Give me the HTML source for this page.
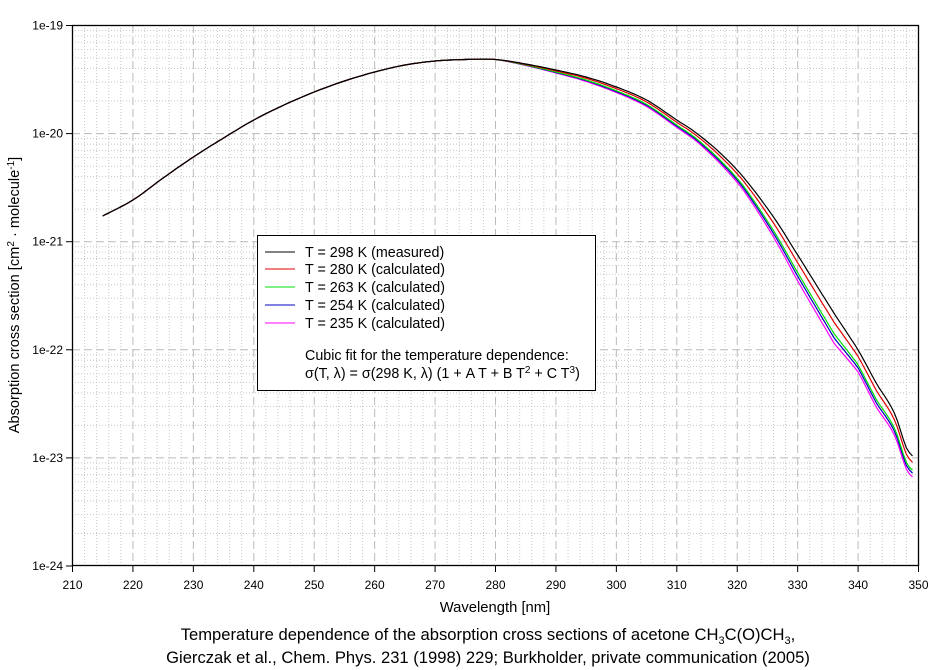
<!DOCTYPE html>
<html><head><meta charset="utf-8"><style>
body{margin:0;background:#fff;}
svg{display:block;font-family:"Liberation Sans",Arial,sans-serif;}
</style></head><body>
<svg id="s" width="944" height="670" xmlns="http://www.w3.org/2000/svg">
<g id="grid"></g>
<g id="curves"></g>
<rect x="72.5" y="25.5" width="846" height="540" fill="none" stroke="#000" stroke-width="1.3"/>
<g id="ticks" font-size="12"></g>
<text x="495" y="612" font-size="14.8" text-anchor="middle">Wavelength [nm]</text>
<text transform="translate(19,295) rotate(-90)" font-size="14.6" text-anchor="middle">Absorption cross section [cm<tspan font-size="10" dy="-5">2</tspan><tspan dy="5"> · molecule</tspan><tspan font-size="10" dy="-5">-1</tspan><tspan dy="5">]</tspan></text>
<rect x="257.5" y="235.5" width="338" height="155" fill="#fff" stroke="#000"/>
<g font-size="14.3">
<line x1="265" y1="252" x2="295" y2="252" stroke="#000"/><text x="305" y="257">T = 298 K (measured)</text>
<line x1="265" y1="269" x2="295" y2="269" stroke="#e00000"/><text x="305" y="274">T = 280 K (calculated)</text>
<line x1="265" y1="287" x2="295" y2="287" stroke="#00e000"/><text x="305" y="292">T = 263 K (calculated)</text>
<line x1="265" y1="305" x2="295" y2="305" stroke="#0000c0"/><text x="305" y="310">T = 254 K (calculated)</text>
<line x1="265" y1="323" x2="295" y2="323" stroke="#ff00ff"/><text x="305" y="328">T = 235 K (calculated)</text>
<text x="305" y="360">Cubic fit for the temperature dependence:</text>
<text x="305" y="378">σ(T, λ) = σ(298 K, λ) (1 + A T + B T<tspan font-size="10" dy="-5">2</tspan><tspan dy="5"> + C T</tspan><tspan font-size="10" dy="-5">3</tspan><tspan dy="5">)</tspan></text>
</g>
<text x="488" y="640" font-size="16.6" text-anchor="middle">Temperature dependence of the absorption cross sections of acetone CH<tspan font-size="11" dy="4">3</tspan><tspan dy="-4">C(O)CH</tspan><tspan font-size="11" dy="4">3</tspan><tspan dy="-4">,</tspan></text>
<text x="488" y="663" font-size="16.6" text-anchor="middle">Gierczak et al., Chem. Phys. 231 (1998) 229; Burkholder, private communication (2005)</text>
</svg>
<script>
const NS="http://www.w3.org/2000/svg";
const X=l=>72.5+(l-210)*6.043, Y=e=>25.5+(-19-e)*108.1;
const g=document.getElementById('grid'),t=document.getElementById('ticks'),c=document.getElementById('curves');
function ln(p,x1,y1,x2,y2,st,da,w){const e=document.createElementNS(NS,'line');e.setAttribute('x1',x1);e.setAttribute('y1',y1);e.setAttribute('x2',x2);e.setAttribute('y2',y2);e.setAttribute('stroke',st);e.setAttribute('stroke-width',w||1);if(da)e.setAttribute('stroke-dasharray',da);p.appendChild(e);}
function tx(x,y,s,a){const e=document.createElementNS(NS,'text');e.setAttribute('x',x);e.setAttribute('y',y);e.setAttribute('text-anchor',a);e.textContent=s;t.appendChild(e);}
for(let l=212;l<350;l+=2){if(l%10)ln(g,X(l),25,X(l),566,'#c8c8c8','1 2');}
for(let d=-24;d<-19;d++)for(let m=2;m<10;m++){const y=Y(d+Math.log10(m));ln(g,72,y,918,y,'#c8c8c8','1 2');}
for(let l=220;l<350;l+=10)ln(g,X(l),25,X(l),566,'#bbb','8 4');
for(let d=-23;d<-19;d++)ln(g,72,Y(d),918,Y(d),'#bbb','8 4');
for(let l=210;l<=350;l+=10){ln(t,X(l),566,X(l),572,'#000');tx(X(l),589,String(l),'middle');}
for(let d=-24;d<=-19;d++){ln(t,66,Y(d),72,Y(d),'#000');tx(63,Y(d)+4,'1e'+d,'end');}
const P=[[215,216],[220,200],[225,178],[230,157],[235,138],[240,120],[245,105],[250,92],[255,81],[260,72],[265,65],[270,61],[275,59.5],[280,59.5],[285,64],[290,70],[295,77],[300,87],[305,100],[310,120],[313,132],[317,152],[321,177],[326,217],[330,255],[336,313],[340,350],[343,383],[346,413],[348,448],[349,456]];
function interp(l){for(let i=0;i<P.length-1;i++){if(l<=P[i+1][0]){const a=P[i],b=P[i+1],p0=P[Math.max(i-1,0)],p3=P[Math.min(i+2,P.length-1)];const h=b[0]-a[0];const u=(l-a[0])/h;const m1=(b[1]-p0[1])/(b[0]-p0[0])*h,m2=(p3[1]-a[1])/(p3[0]-a[0])*h;const u2=u*u,u3=u2*u;return (2*u3-3*u2+1)*a[1]+(u3-2*u2+u)*m1+(-2*u3+3*u2)*b[1]+(u3-u2)*m2;}}return P[P.length-1][1];}
const O=[[280,0],[290,3],[297,5],[313,8],[321,13],[326,20],[330,26],[336,30],[340,22],[343,24],[346,22],[349,21]];
function off(l){if(l<=280)return 0;for(let i=0;i<O.length-1;i++){if(l<=O[i+1][0]){const a=O[i],b=O[i+1];return a[1]+(b[1]-a[1])*(l-a[0])/(b[0]-a[0]);}}return 21;}
const S=[['#ff00ff',1],['#0000c0',0.82],['#00e000',0.68],['#e00000',0.3],['#000',0]];
S.forEach((s)=>{let d='';for(let l=215;l<=349.001;l+=0.5){const y=interp(l)+off(l)*s[1];d+=(d?'L':'M')+X(l).toFixed(1)+','+y.toFixed(1);}
const p=document.createElementNS(NS,'path');p.setAttribute('d',d);p.setAttribute('fill','none');p.setAttribute('stroke',s[0]);p.setAttribute('stroke-width',1.2);c.appendChild(p);});
</script>
</body></html>
